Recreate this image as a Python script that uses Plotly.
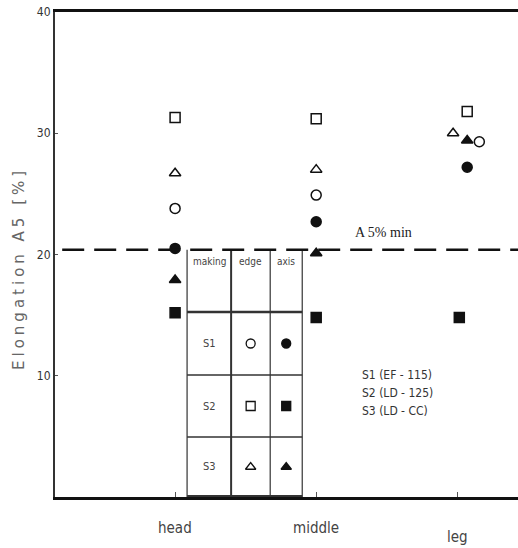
import plotly.graph_objects as go

# Sampling positions along the bar
positions = ["head", "middle", "leg"]

# Elongation A5 [%] per making process: edge and axis specimens
s1_edge = [23.8, 24.9, 29.3]
s1_axis = [20.5, 22.7, 27.2]
s2_edge = [31.3, 31.2, 31.8]
s2_axis = [15.2, 14.8, 14.8]
s3_edge = [26.7, 27.0, 30.0]
s3_axis = [17.9, 20.1, 29.4]

min_a5 = 20.4
min_label = "A 5% min"
process_labels = ["S1 (EF - 115)", "S2 (LD - 125)", "S3 (LD - CC)"]
table_rows = ["S1", "S2", "S3"]
table_header = ["making", "edge", "axis"]

# horizontal nudges so overlapping markers stay readable
nudge = {
    "s1e": [0, 0, 0.156], "s1a": [0, 0, 0.07],
    "s2e": [0, 0, 0.07], "s2a": [0, 0, 0.014],
    "s3e": [0, 0, -0.03], "s3a": [0, 0, 0.07],
}

base_x = list(range(1, len(positions) + 1))
ink = "#111111"
narrow = "Liberation Sans Narrow, DejaVu Sans Condensed, Arial, sans-serif"

series = [
    ("s1e", s1_edge, "circle-open"),
    ("s1a", s1_axis, "circle"),
    ("s2e", s2_edge, "square-open"),
    ("s2a", s2_axis, "square"),
    ("s3e", s3_edge, "triangle-up-open"),
    ("s3a", s3_axis, "triangle-up"),
]

fig = go.Figure()
for key, vals, sym in series:
    xs = [b + d for b, d in zip(base_x, nudge[key])]
    fig.add_trace(go.Scatter(
        x=xs, y=vals, mode="markers", showlegend=False,
        marker=dict(symbol=sym, size=10, color=ink,
                    line=dict(color=ink, width=1.5)),
    ))

# Key table drawn inside the plot
col_edges = [1.085, 1.397, 1.674, 1.901]
row_edges = [min_a5, 15.26, 10.06, 4.95, 0.0]
line_col = "#333333"
for i, cx in enumerate(col_edges):
    fig.add_shape(type="line", x0=cx, x1=cx, y0=row_edges[0], y1=0,
                  line=dict(color=line_col, width=2 if i == 1 else 1.2))
for j, ry in enumerate(row_edges[1:-1]):
    fig.add_shape(type="line", x0=col_edges[0], x1=col_edges[-1], y0=ry, y1=ry,
                  line=dict(color=line_col, width=2.5 if j == 0 else 1.5))
fig.add_shape(type="line", x0=col_edges[0], x1=col_edges[-1], y0=0.05, y1=0.05,
              line=dict(color=line_col, width=3))

col_mid = [(a + b) / 2 for a, b in zip(col_edges[:-1], col_edges[1:])]
row_mid = [(a + b) / 2 for a, b in zip(row_edges[1:-1], row_edges[2:])]
for k, txt in enumerate(table_header):
    fig.add_annotation(x=col_mid[k], y=row_edges[0] - 0.35, text=txt,
                       showarrow=False, yanchor="top",
                       font=dict(family=narrow, size=10, color="#444"))
for r, txt in enumerate(table_rows):
    fig.add_annotation(x=col_mid[0], y=row_mid[r], text=txt, showarrow=False,
                       font=dict(family=narrow, size=11, color="#444"))

key_syms = [("circle-open", "circle"), ("square-open", "square"),
            ("triangle-up-open", "triangle-up")]
for r, (so, sf) in enumerate(key_syms):
    fig.add_trace(go.Scatter(
        x=[col_mid[1], col_mid[2]], y=[row_mid[r], row_mid[r]],
        mode="markers", showlegend=False,
        marker=dict(symbol=[so, sf], size=9, color=ink,
                    line=dict(color=ink, width=1.3)),
    ))

# Minimum requirement line
fig.add_shape(type="line", x0=0.2, x1=3.45, y0=min_a5, y1=min_a5,
              line=dict(color=ink, width=2.5, dash="22px,10px"))
fig.add_annotation(x=2.475, y=min_a5 + 0.6, text=min_label, showarrow=False,
                   yanchor="bottom",
                   font=dict(family="Liberation Serif, DejaVu Serif, serif",
                             size=14, color="#222"))

# Process descriptions
for i, txt in enumerate(process_labels):
    fig.add_annotation(x=2.31, y=10.06 - i * 1.48, text=txt, showarrow=False,
                       xanchor="left",
                       font=dict(family=narrow, size=12, color="#333"))

# Category labels under the axis
label_drop = [-0.063, -0.063, -0.082]
for xv, name, yy in zip(base_x, positions, label_drop):
    fig.add_annotation(x=xv, y=yy, xref="x", yref="paper", text=name,
                       showarrow=False, yanchor="middle",
                       font=dict(family=narrow, size=15, color="#444"))

fig.add_annotation(x=-0.078, y=0.472, xref="paper", yref="paper",
                   xanchor="center", yanchor="middle",
                   text='<span style="letter-spacing:4px">Elongation A5 [%]</span>',
                   textangle=-90, showarrow=False,
                   font=dict(family="DejaVu Sans, Verdana, sans-serif",
                             size=15, color="#666"))

fig.update_layout(
    width=518, height=548,
    margin=dict(l=55, r=0, t=12, b=51),
    plot_bgcolor="white", paper_bgcolor="white",
)
fig.update_xaxes(
    range=[0.149, 3.43], tickvals=base_x, ticktext=["", "", ""],
    ticks="inside", ticklen=5, tickcolor="#555",
    showgrid=False, zeroline=False,
    showline=True, linecolor=ink, linewidth=2.5, mirror=True,
)
fig.update_yaxes(
    range=[0, 40], tickvals=[10, 20, 30, 40],
    ticks="inside", ticklen=3, tickcolor="#555",
    tickfont=dict(family=narrow, size=12, color="#333"),
    showgrid=False, zeroline=False,
    showline=True, linecolor="#333", linewidth=2, mirror=False,
)

fig.write_html("out.html")
